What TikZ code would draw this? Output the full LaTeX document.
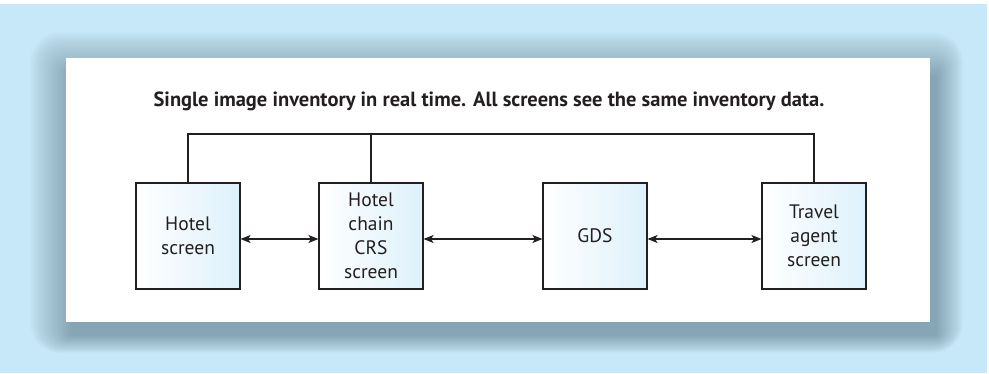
\documentclass[tikz,border=0pt]{standalone}
\usepackage{fontspec}
\setmainfont{PT Sans}
\usetikzlibrary{arrows.meta,positioning}
\definecolor{skyback}{HTML}{C6E8F8}
\definecolor{shadowgray}{HTML}{3C5666}
\definecolor{boxblue}{HTML}{DDF1FB}
\definecolor{inkgray}{HTML}{231F20}
\tikzset{
  screenbox/.style={draw=inkgray, line width=1.1pt, minimum width=104pt, minimum height=106pt,
    inner sep=0pt, left color=white, right color=boxblue, align=center, text=inkgray,
    font=\fontsize{19.5}{24}\selectfont},
  link/.style={draw=inkgray, line width=1.1pt},
  twoway/.style={link, {Stealth[length=10pt,width=8pt,inset=2.5pt]}-{Stealth[length=10pt,width=8pt,inset=2.5pt]}}
}
\begin{document}
\begin{tikzpicture}[x=1pt,y=-1pt]
\useasboundingbox (0,0) rectangle (989,373);
\fill[skyback] (0,4) rectangle (987,373);
% soft shadow round the panel
\foreach \i in {0,...,29}{
  \fill[shadowgray, fill opacity=0.014, rounded corners={(30-\i)*1pt}]
    ({30+1.4*\i},{32+1.5*\i}) rectangle ({963-0.9*\i},{353-0.6*\i});
}
\fill[white] (66,58) rectangle (930,322);

\node[font=\bfseries\fontsize{20.5}{24}\selectfont, text=inkgray] (headline) at (489,101)
  {Single image inventory in real time. All screens see the same inventory data.};

\node[screenbox] (hotel) at (188,236) {Hotel\\screen};
\node[screenbox] (crs) at (371,236) {Hotel\\chain\\CRS\\screen};
\node[screenbox] (gds) at (595,236) {GDS};
\node[screenbox] (agent) at (814,236) {Travel\\agent\\screen};

\coordinate (bus) at (500,134);
\draw[link] (hotel.north) |- (bus) -| (agent.north);
\draw[link] (crs.north) -- (crs.north |- bus);

\draw[twoway] ([yshift=-3pt]hotel.east) -- ([yshift=-3pt]crs.west);
\draw[twoway] ([yshift=-3pt]crs.east) -- ([yshift=-3pt]gds.west);
\draw[twoway] ([yshift=-3pt]gds.east) -- ([yshift=-3pt]agent.west);
\end{tikzpicture}
\end{document}
